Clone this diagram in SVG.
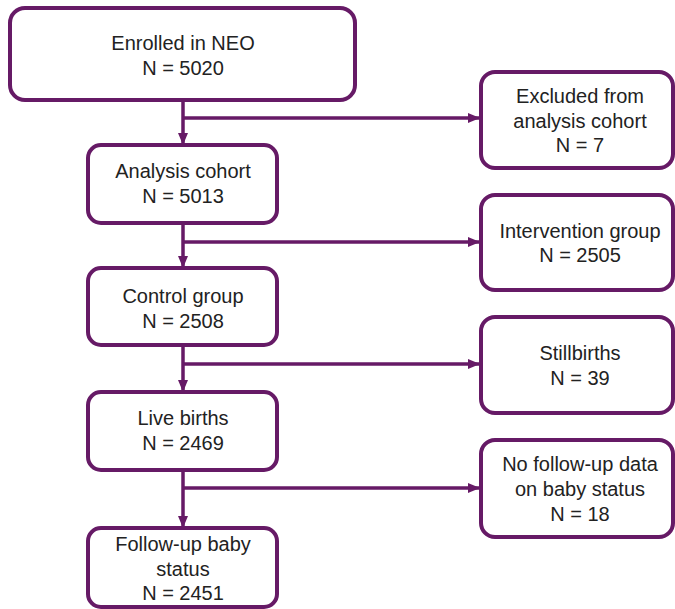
<svg xmlns="http://www.w3.org/2000/svg" width="675" height="609" viewBox="0 0 675 609">
<style>
.box{fill:#fff;stroke:#661a66;stroke-width:4}
.ln{stroke:#661a66;stroke-width:3.5;fill:none}
text{font-family:"Liberation Sans",Arial,sans-serif;font-size:20px;fill:#222;text-anchor:middle}
</style>
<defs>
<marker id="ah" markerWidth="12" markerHeight="10" refX="11" refY="5" orient="auto" markerUnits="userSpaceOnUse">
<path d="M0,0 L12,5 L0,10 Z" fill="#661a66"/>
</marker>
</defs>
<rect width="675" height="609" fill="#fff"/>
<g id="connectors">
<line class="ln" x1="183" y1="100" x2="183" y2="144" marker-end="url(#ah)"/>
<line class="ln" x1="183" y1="118" x2="479" y2="118" marker-end="url(#ah)"/>
<line class="ln" x1="183" y1="223" x2="183" y2="267" marker-end="url(#ah)"/>
<line class="ln" x1="183" y1="242" x2="479" y2="242" marker-end="url(#ah)"/>
<line class="ln" x1="183" y1="345" x2="183" y2="391" marker-end="url(#ah)"/>
<line class="ln" x1="183" y1="364" x2="479" y2="364" marker-end="url(#ah)"/>
<line class="ln" x1="183" y1="470" x2="183" y2="527" marker-end="url(#ah)"/>
<line class="ln" x1="183" y1="488" x2="479" y2="488" marker-end="url(#ah)"/>
</g>
<g id="enrolled">
<rect class="box" x="10" y="8" width="345" height="92" rx="15"/>
<text x="183" y="50">Enrolled in NEO</text>
<text x="183" y="75">N = 5020</text>
</g>
<g id="excluded">
<rect class="box" x="481" y="72" width="192" height="96" rx="14"/>
<text x="580" y="103">Excluded from</text>
<text x="580" y="128">analysis cohort</text>
<text x="580" y="152">N = 7</text>
</g>
<g id="analysis">
<rect class="box" x="88" y="145" width="189" height="78" rx="13"/>
<text x="183" y="178">Analysis cohort</text>
<text x="183" y="203">N = 5013</text>
</g>
<g id="intervention">
<rect class="box" x="481" y="195" width="192" height="95" rx="14"/>
<text x="580" y="238">Intervention group</text>
<text x="580" y="262">N = 2505</text>
</g>
<g id="control">
<rect class="box" x="88" y="268" width="189" height="77" rx="13"/>
<text x="183" y="303">Control group</text>
<text x="183" y="328">N = 2508</text>
</g>
<g id="stillbirths">
<rect class="box" x="481" y="317" width="192" height="96" rx="14"/>
<text x="580" y="360">Stillbirths</text>
<text x="580" y="385">N = 39</text>
</g>
<g id="livebirths">
<rect class="box" x="88" y="392" width="189" height="78" rx="13"/>
<text x="183" y="425">Live births</text>
<text x="183" y="450">N = 2469</text>
</g>
<g id="nofollowup">
<rect class="box" x="481" y="440" width="192" height="97" rx="14"/>
<text x="580" y="471">No follow-up data</text>
<text x="580" y="496">on baby status</text>
<text x="580" y="521">N = 18</text>
</g>
<g id="followup">
<rect class="box" x="88" y="528" width="189" height="79" rx="13"/>
<text x="183" y="551">Follow-up baby</text>
<text x="183" y="576">status</text>
<text x="183" y="600">N = 2451</text>
</g>
</svg>
